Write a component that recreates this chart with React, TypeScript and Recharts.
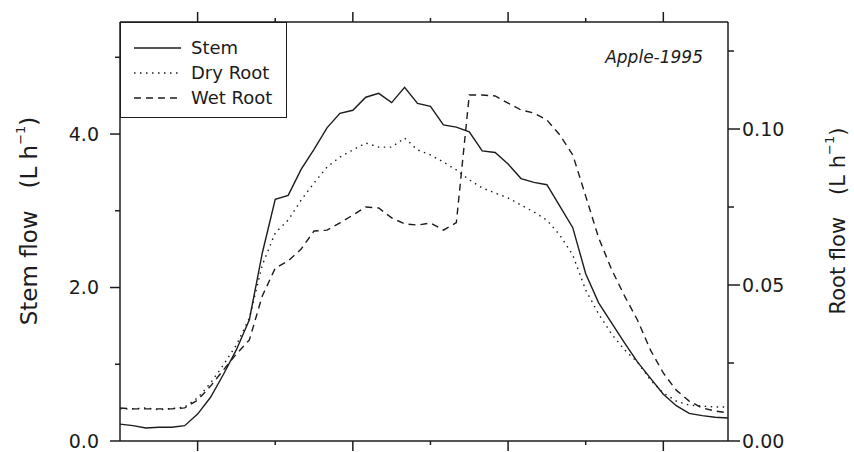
import React from 'react';
import { LineChart, Line, XAxis, YAxis, Legend } from 'recharts';

// time of day (h), one reading every half hour
const hours = [
  1, 1.5, 2, 2.5, 3, 3.5, 4, 4.5, 5, 5.5, 6, 6.5, 7, 7.5, 8, 8.5, 9, 9.5, 10, 10.5, 11, 11.5, 12, 12.5,
  13, 13.5, 14, 14.5, 15, 15.5, 16, 16.5, 17, 17.5, 18, 18.5, 19, 19.5, 20, 20.5, 21, 21.5, 22, 22.5,
  23, 23.5, 24, 24.5,
];

// stem flow, L/h (left axis)
const stemFlow = [
  0.22, 0.2, 0.17, 0.18, 0.18, 0.2, 0.35, 0.57, 0.87, 1.19, 1.58, 2.45, 3.15, 3.2, 3.54, 3.8, 4.08, 4.27,
  4.31, 4.48, 4.53, 4.41, 4.61, 4.4, 4.36, 4.12, 4.09, 4.03, 3.78, 3.76, 3.61, 3.42, 3.37, 3.34, 3.06,
  2.78, 2.18, 1.8, 1.54, 1.28, 1.03, 0.82, 0.61, 0.46, 0.36, 0.33, 0.31, 0.3,
];

// root flow, L/h (right axis)
const dryRootFlow = [
  0.0103, 0.0103, 0.0106, 0.01, 0.0104, 0.0109, 0.0138, 0.0186, 0.0244, 0.0308, 0.0394, 0.0564, 0.0667,
  0.0708, 0.0772, 0.0827, 0.0878, 0.091, 0.0933, 0.0955, 0.0942, 0.0942, 0.0971, 0.0933, 0.0917, 0.0894,
  0.0869, 0.0837, 0.0811, 0.0795, 0.0779, 0.0756, 0.0734, 0.0708, 0.066, 0.0596, 0.0484, 0.0407, 0.0343,
  0.0292, 0.0253, 0.0196, 0.0154, 0.0128, 0.0115, 0.0112, 0.0109, 0.0109,
];

const wetRootFlow = [
  0.0106, 0.0103, 0.0103, 0.0103, 0.0103, 0.0106, 0.0131, 0.0176, 0.0228, 0.0279, 0.0324, 0.0465, 0.0554,
  0.0577, 0.0615, 0.0673, 0.0676, 0.0699, 0.0724, 0.075, 0.0747, 0.0715, 0.0696, 0.0692, 0.0699, 0.0676,
  0.07, 0.1109, 0.1109, 0.1106, 0.1083, 0.1061, 0.1051, 0.1029, 0.0981, 0.0917, 0.0785, 0.0651, 0.055,
  0.0465, 0.0388, 0.0292, 0.0218, 0.0163, 0.0128, 0.0106, 0.0096, 0.009,
];

const hourTicks = [4, 7, 10, 13, 16, 19, 22];
const hourMajorTicks = [4, 10, 16, 22];
const stemTicks = [0, 1, 2, 3, 4, 5];
const stemTickLabels: Record<number, string> = { 0: '0.0', 2: '2.0', 4: '4.0' };
const rootTicks = [0, 0.025, 0.05, 0.075, 0.1, 0.125];
const rootTickLabels: Record<number, string> = { 0: '0.00', 0.05: '0.05', 0.1: '0.10' };

const data = hours.map((hour, i) => ({
  hour,
  stem: stemFlow[i],
  dry: dryRootFlow[i],
  wet: wetRootFlow[i],
}));

const ink = '#1c1c1c';
const font = '"DejaVu Sans", sans-serif';

const series = [
  { key: 'stem', name: 'Stem', axis: 'left', dash: undefined as string | undefined },
  { key: 'dry', name: 'Dry Root', axis: 'right', dash: '1.5 4.5' },
  { key: 'wet', name: 'Wet Root', axis: 'right', dash: '7 5' },
];

const BottomTick = (props: any) => {
  const { x, y, payload } = props;
  const len = hourMajorTicks.includes(payload.value) ? 10 : 4;
  return <line x1={x} x2={x} y1={y} y2={y + len} stroke={ink} strokeWidth={1.5} />;
};

const TopTick = (props: any) => {
  const { x, y, payload } = props;
  const len = hourMajorTicks.includes(payload.value) ? 10 : 4;
  return <line x1={x} x2={x} y1={y} y2={y - len} stroke={ink} strokeWidth={1.5} />;
};

const LeftTick = (props: any) => {
  const { x, y, payload } = props;
  const label = stemTickLabels[payload.value];
  const len = label ? 10 : 5;
  return (
    <g>
      <line x1={x - len} x2={x} y1={y} y2={y} stroke={ink} strokeWidth={1.5} />
      {label && (
        <text x={x - len - 11} y={y} dy="0.35em" textAnchor="end" fontSize={19} fill={ink} fontFamily={font}>
          {label}
        </text>
      )}
    </g>
  );
};

const RightTick = (props: any) => {
  const { x, y, payload } = props;
  const label = rootTickLabels[payload.value];
  const len = label ? 12 : 6;
  return (
    <g>
      <line x1={x} x2={x + len} y1={y} y2={y} stroke={ink} strokeWidth={1.5} />
      {label && (
        <text x={x + len + 2} y={y} dy="0.35em" textAnchor="start" fontSize={19} fill={ink} fontFamily={font}>
          {label}
        </text>
      )}
    </g>
  );
};

const AxisTitle = ({ cx, cy, title, size }: { cx: number; cy: number; title: string; size: number }) => (
  <text
    transform={`translate(${cx},${cy}) rotate(-90)`}
    textAnchor="middle"
    dominantBaseline="central"
    fontSize={size}
    fill={ink}
    fontFamily={font}
  >
    <tspan>{title}</tspan>
    <tspan dx={22}>(L h</tspan>
    <tspan dy={-9} fontSize={13}>
      −1
    </tspan>
    <tspan dy={9}>)</tspan>
  </text>
);

const LegendBox = () => (
  <div
    style={{
      boxSizing: 'border-box',
      width: 167,
      height: 96,
      border: `1.5px solid ${ink}`,
      background: '#fff',
      paddingTop: 12,
    }}
  >
    {series.map((s) => (
      <div key={s.key} style={{ display: 'flex', alignItems: 'center', height: 25 }}>
        <svg width={60} height={12} style={{ marginLeft: 10 }}>
          <line x1={3} x2={50} y1={6} y2={6} stroke={ink} strokeWidth={1.5} strokeDasharray={s.dash} />
        </svg>
        <span style={{ fontSize: 18, color: ink, fontFamily: font }}>{s.name}</span>
      </div>
    ))}
  </div>
);

export default function App() {
  return (
    <div style={{ position: 'absolute', left: 0, top: 0, width: 854, height: 452, background: '#fff' }}>
      <LineChart width={854} height={452} data={data} margin={{ top: 0, right: 0, bottom: 0, left: 0 }}>
        <XAxis
          xAxisId="bottom"
          dataKey="hour"
          type="number"
          domain={[1, 24.5]}
          ticks={hourTicks}
          interval={0}
          height={11}
          tickSize={0}
          tickMargin={0}
          tickLine={false}
          tick={(p: any) => <BottomTick {...p} />}
          axisLine={{ stroke: ink, strokeWidth: 1.5 }}
        />
        <XAxis
          xAxisId="top"
          orientation="top"
          dataKey="hour"
          type="number"
          domain={[1, 24.5]}
          ticks={hourTicks}
          interval={0}
          height={22}
          tickSize={0}
          tickMargin={0}
          tickLine={false}
          tick={(p: any) => <TopTick {...p} />}
          axisLine={{ stroke: ink, strokeWidth: 1.5 }}
        />
        <YAxis
          yAxisId="left"
          type="number"
          domain={[0, 5.46]}
          ticks={stemTicks}
          interval={0}
          width={120}
          tickSize={0}
          tickMargin={0}
          tickLine={false}
          tick={(p: any) => <LeftTick {...p} />}
          axisLine={{ stroke: ink, strokeWidth: 1.5 }}
          label={{ content: () => <AxisTitle cx={29} cy={221} title="Stem flow" size={23} /> }}
        />
        <YAxis
          yAxisId="right"
          orientation="right"
          type="number"
          domain={[0, 0.1343]}
          ticks={rootTicks}
          interval={0}
          width={126}
          tickSize={0}
          tickMargin={0}
          tickLine={false}
          tick={(p: any) => <RightTick {...p} />}
          axisLine={{ stroke: ink, strokeWidth: 1.5 }}
          label={{ content: () => <AxisTitle cx={838} cy={221} title="Root flow" size={21} /> }}
        />
        <Legend
          layout="horizontal"
          verticalAlign="middle"
          align="center"
          wrapperStyle={{ left: 120, top: 22, width: 167, height: 96 }}
          content={() => <LegendBox />}
        />
        {series.map((s) => (
          <Line
            key={s.key}
            xAxisId="bottom"
            yAxisId={s.axis}
            dataKey={s.key}
            name={s.name}
            type="linear"
            stroke={ink}
            strokeWidth={1.4}
            strokeDasharray={s.dash}
            dot={false}
            activeDot={false}
            isAnimationActive={false}
          />
        ))}
      </LineChart>
      <div
        style={{
          position: 'absolute',
          left: 560,
          top: 47,
          width: 143,
          textAlign: 'right',
          fontFamily: font,
          fontStyle: 'italic',
          fontSize: 17,
          color: ink,
        }}
      >
        Apple-1995
      </div>
    </div>
  );
}
